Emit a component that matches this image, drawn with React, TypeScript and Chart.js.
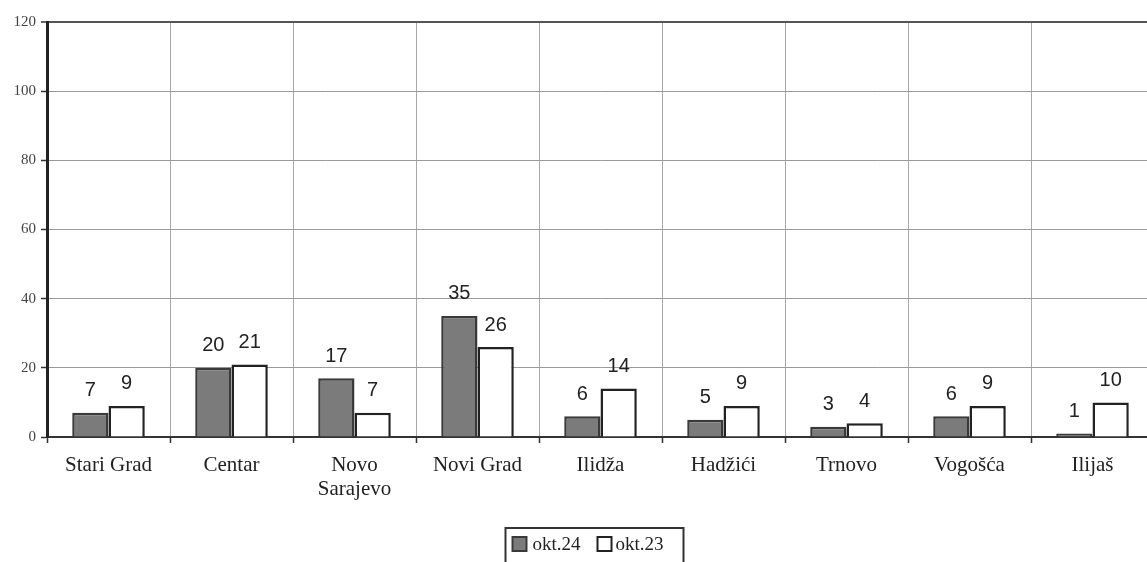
import React, { useEffect, useRef } from "react";
import { Chart, registerables } from "chart.js";

Chart.register(...registerables);

const categories: (string | string[])[] = [
  "Stari Grad",
  "Centar",
  ["Novo", "Sarajevo"],
  "Novi Grad",
  "Ilidža",
  "Hadžići",
  "Trnovo",
  "Vogošća",
  "Ilijaš",
];
const seriesNames = ["okt.24", "okt.23"];
const okt24 = [7, 20, 17, 35, 6, 5, 3, 6, 1];
const okt23 = [9, 21, 7, 26, 14, 9, 4, 9, 10];
const yTicks = [0, 20, 40, 60, 80, 100, 120];

const darkFill = "#7b7b7b";
const darkBorder = "#3a3a3a";
const lightFill = "#ffffff";
const lightBorder = "#222222";

const valueLabels = {
  id: "valueLabels",
  afterDatasetsDraw(chart: any) {
    const ctx = chart.ctx;
    ctx.save();
    ctx.font = '20px "Liberation Sans", Arial, sans-serif';
    ctx.fillStyle = "#222";
    ctx.textAlign = "center";
    ctx.textBaseline = "middle";
    chart.data.datasets.forEach((ds: any, i: number) => {
      const meta = chart.getDatasetMeta(i);
      meta.data.forEach((bar: any, j: number) => {
        ctx.fillText(String(ds.data[j]), bar.x, bar.y - 22);
      });
    });
    ctx.restore();
  },
};

const boxedLegend = {
  id: "boxedLegend",
  afterDraw(chart: any) {
    const ctx = chart.ctx;
    const area = chart.chartArea;
    const boxW = 178;
    const left = (area.left + area.right) / 2 - 6 - boxW / 2;
    const top = 528;
    ctx.save();
    ctx.strokeStyle = "#333";
    ctx.lineWidth = 2;
    ctx.strokeRect(left, top, boxW, 60);
    const items = [
      { x: 7, tx: 27, fill: darkFill, stroke: darkBorder },
      { x: 92, tx: 110, fill: lightFill, stroke: lightBorder },
    ];
    ctx.font = '19px "Liberation Serif", "Times New Roman", serif';
    ctx.textBaseline = "middle";
    ctx.textAlign = "left";
    items.forEach((it, i) => {
      ctx.fillStyle = it.fill;
      ctx.fillRect(left + it.x, 537, 14, 14);
      ctx.strokeStyle = it.stroke;
      ctx.lineWidth = 2;
      ctx.strokeRect(left + it.x, 537, 14, 14);
      ctx.fillStyle = "#222";
      ctx.fillText(chart.data.datasets[i].label, left + it.tx, 545);
    });
    ctx.restore();
  },
};

export default function App() {
  const ref = useRef<HTMLCanvasElement | null>(null);
  useEffect(() => {
    if (!ref.current) return;
    const chart = new Chart(ref.current, {
      type: "bar",
      data: {
        labels: categories,
        datasets: [
          {
            label: seriesNames[0],
            data: okt24,
            backgroundColor: darkFill,
            borderColor: darkBorder,
            borderWidth: 2.5,
            categoryPercentage: 0.59,
            barPercentage: 1,
          },
          {
            label: seriesNames[1],
            data: okt23,
            backgroundColor: lightFill,
            borderColor: lightBorder,
            borderWidth: 2.5,
            categoryPercentage: 0.59,
            barPercentage: 1,
          },
        ],
      },
      options: {
        animation: false,
        responsive: true,
        maintainAspectRatio: false,
        layout: { padding: { top: 22, right: 6, bottom: 0, left: 0 } },
        plugins: {
          legend: { display: false },
          tooltip: { enabled: false },
        },
        scales: {
          x: {
            afterFit: (s: any) => {
              s.height = 143;
            },
            grid: {
              offset: true,
              color: "#a8a8a8",
              lineWidth: 1,
              tickLength: 6,
              tickColor: "#333",
              tickWidth: 1.5,
            },
            border: { display: true, color: "#333", width: 2 },
            ticks: {
              color: "#222",
              padding: 10,
              font: { family: '"Liberation Serif", "Times New Roman", serif', size: 21, lineHeight: 1.15 },
            },
          },
          y: {
            min: 0,
            max: 120,
            afterFit: (s: any) => {
              s.width = 47;
            },
            afterBuildTicks: (s: any) => {
              s.ticks = yTicks.map((v) => ({ value: v }));
            },
            grid: {
              color: (c: any) => (c.tick && c.tick.value === 120 ? "#555" : "#9a9a9a"),
              lineWidth: (c: any) => (c.tick && c.tick.value === 120 ? 2 : 1),
              tickLength: 6,
              tickColor: "#333",
              tickWidth: 1.5,
            },
            border: { display: true, color: "#222", width: 3 },
            ticks: {
              color: "#444",
              padding: 5,
              font: { family: '"Liberation Serif", "Times New Roman", serif', size: 15 },
            },
          },
        },
      },
      plugins: [valueLabels, boxedLegend],
    });
    return () => chart.destroy();
  }, []);
  return (
    <div style={{ position: "fixed", left: 0, top: 0, width: 1160, height: 580, background: "#fff" }}>
      <canvas ref={ref} />
    </div>
  );
}
